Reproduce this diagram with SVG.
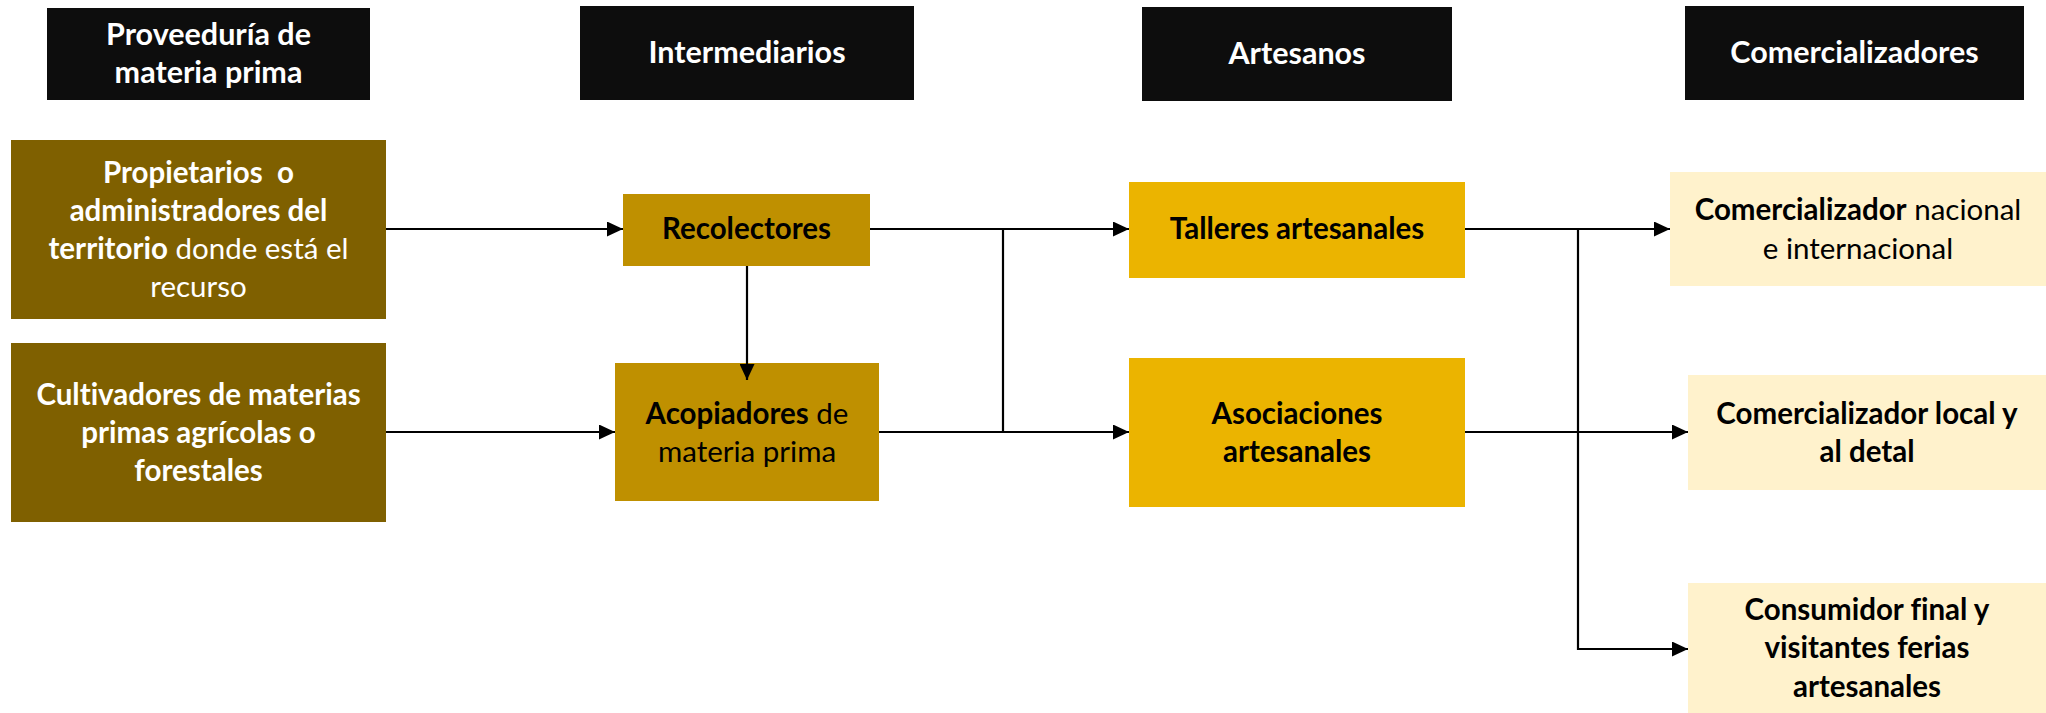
<svg xmlns="http://www.w3.org/2000/svg" width="2046" height="713" viewBox="0 0 2046 713">
<style>
text{font-family:Lato,"Liberation Sans",sans-serif;font-size:29.5px;text-anchor:middle;white-space:pre;font-variant-ligatures:none;font-feature-settings:"liga" 0}
.hdr rect{fill:#0D0D0D}
.hdr text{fill:#FFFFFF;font-weight:bold;font-size:30.5px}
.src rect{fill:#7F6000}
.src text{fill:#FFFFFF}
.mid rect{fill:#BF9000}
.art rect{fill:#EBB400}
.com rect{fill:#FFF2CC}
.dk text{fill:#000000}
.b{font-weight:bold}
.conn{fill:none;stroke:#000;stroke-width:2.2}
</style>
<defs>
<marker id="ah" markerUnits="userSpaceOnUse" markerWidth="16" markerHeight="15" refX="16" refY="7.5" orient="auto">
<path d="M0,0 L16,7.5 L0,15 Z" fill="#000"/>
</marker>
</defs>
<rect width="2046" height="713" fill="#FFFFFF"/>

<g id="h1" class="hdr"><rect x="47" y="8" width="323" height="92"/>
<text x="208.5" y="45">Proveeduría de</text><text x="208.5" y="83">materia prima</text></g>
<g id="h2" class="hdr"><rect x="580" y="6" width="334" height="94"/>
<text x="747" y="63">Intermediarios</text></g>
<g id="h3" class="hdr"><rect x="1142" y="7" width="310" height="94"/>
<text x="1297" y="64">Artesanos</text></g>
<g id="h4" class="hdr"><rect x="1685" y="6" width="339" height="94"/>
<text x="1854.5" y="63">Comercializadores</text></g>

<g id="propietarios" class="src"><rect x="11" y="140" width="375" height="179"/>
<text x="198.5" y="183" class="b">Propietarios  o</text>
<text x="198.5" y="221" class="b">administradores del</text>
<text x="198.5" y="259"><tspan class="b">territorio</tspan> donde está el</text>
<text x="198.5" y="297">recurso</text></g>

<g id="cultivadores" class="src"><rect x="11" y="343" width="375" height="179"/>
<text x="198.5" y="405" class="b">Cultivadores de materias</text>
<text x="198.5" y="443" class="b">primas agrícolas o</text>
<text x="198.5" y="481" class="b">forestales</text></g>

<g id="recolectores" class="mid dk"><rect x="623" y="194" width="247" height="72"/>
<text x="746.5" y="239" class="b">Recolectores</text></g>

<g id="acopiadores" class="mid dk"><rect x="615" y="363" width="264" height="138"/>
<text x="747" y="424"><tspan class="b">Acopiadores</tspan> de</text>
<text x="747" y="462">materia prima</text></g>

<g id="talleres" class="art dk"><rect x="1129" y="182" width="336" height="96"/>
<text x="1297" y="239" class="b">Talleres artesanales</text></g>

<g id="asociaciones" class="art dk"><rect x="1129" y="358" width="336" height="149"/>
<text x="1297" y="424" class="b">Asociaciones</text>
<text x="1297" y="462" class="b">artesanales</text></g>

<g id="com-nacional" class="com dk"><rect x="1670" y="172" width="376" height="114"/>
<text x="1858" y="220"><tspan class="b">Comercializador</tspan> nacional</text>
<text x="1858" y="259">e internacional</text></g>

<g id="com-local" class="com dk"><rect x="1688" y="375" width="358" height="115"/>
<text x="1867" y="424" class="b">Comercializador local y</text>
<text x="1867" y="462" class="b">al detal</text></g>

<g id="consumidor" class="com dk"><rect x="1688" y="583" width="358" height="130"/>
<text x="1867" y="620" class="b">Consumidor final y</text>
<text x="1867" y="658" class="b">visitantes ferias</text>
<text x="1867" y="697" class="b">artesanales</text></g>

<g id="connectors" class="conn">
<path d="M386,229 H623" marker-end="url(#ah)"/>
<path d="M386,432 H615" marker-end="url(#ah)"/>
<path d="M747,266 V380" marker-end="url(#ah)"/>
<path d="M870,229 H1129" marker-end="url(#ah)"/>
<path d="M879,432 H1129" marker-end="url(#ah)"/>
<path d="M1003,229 V432"/>
<path d="M1465,229 H1670" marker-end="url(#ah)"/>
<path d="M1465,432 H1688" marker-end="url(#ah)"/>
<path d="M1578,229 V649 H1688" marker-end="url(#ah)"/>
</g>
</svg>
